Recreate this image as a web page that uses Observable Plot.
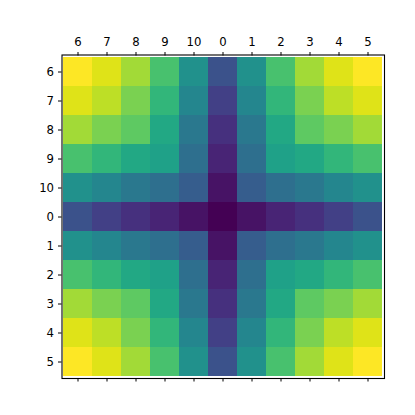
<!DOCTYPE html>
<html>
<head>
<meta charset="utf-8">
<script src="https://cdn.jsdelivr.net/npm/d3@7"></script>
<script src="https://cdn.jsdelivr.net/npm/@observablehq/plot@0.6"></script>
<style>
  html, body { margin: 0; padding: 0; background: white; }
</style>
</head>
<body>
<div id="chart"></div>
<script>
const labels = ["6", "7", "8", "9", "10", "0", "1", "2", "3", "4", "5"];

// Values (0 = darkest, 1 = brightest), row by row
const row6  = [1.00, 0.95, 0.86, 0.71, 0.50, 0.25, 0.50, 0.71, 0.86, 0.95, 1.00];
const row7  = [0.95, 0.90, 0.80, 0.66, 0.46, 0.19, 0.46, 0.66, 0.80, 0.90, 0.95];
const row8  = [0.86, 0.80, 0.75, 0.60, 0.40, 0.14, 0.40, 0.60, 0.75, 0.80, 0.86];
const row9  = [0.71, 0.66, 0.60, 0.57, 0.36, 0.10, 0.36, 0.57, 0.60, 0.66, 0.71];
const row10 = [0.50, 0.46, 0.40, 0.36, 0.29, 0.05, 0.29, 0.36, 0.40, 0.46, 0.50];
const row0  = [0.25, 0.19, 0.14, 0.10, 0.05, 0.00, 0.05, 0.10, 0.14, 0.19, 0.25];
const row1  = [0.50, 0.46, 0.40, 0.36, 0.29, 0.05, 0.29, 0.36, 0.40, 0.46, 0.50];
const row2  = [0.71, 0.66, 0.60, 0.57, 0.36, 0.10, 0.36, 0.57, 0.60, 0.66, 0.71];
const row3  = [0.86, 0.80, 0.75, 0.60, 0.40, 0.14, 0.40, 0.60, 0.75, 0.80, 0.86];
const row4  = [0.95, 0.90, 0.80, 0.66, 0.46, 0.19, 0.46, 0.66, 0.80, 0.90, 0.95];
const row5  = [1.00, 0.95, 0.86, 0.71, 0.50, 0.25, 0.50, 0.71, 0.86, 0.95, 1.00];

const rows = [row6, row7, row8, row9, row10, row0, row1, row2, row3, row4, row5];

const data = [];
rows.forEach((r, i) => r.forEach((v, j) => data.push({row: labels[i], col: labels[j], v})));

const chart = Plot.plot({
  width: 415,
  height: 415,
  marginLeft: 61.5,
  marginRight: 31,
  marginTop: 54.5,
  marginBottom: 37,
  style: {fontFamily: "DejaVu Sans, sans-serif", fontSize: "11.7px", color: "black", background: "white"},
  x: {domain: labels, padding: 0},
  y: {domain: labels, padding: 0},
  color: {type: "linear", scheme: "viridis", domain: [0, 1]},
  marks: [
    Plot.cell(data, {x: "col", y: "row", fill: "v"}),
    Plot.axisX({anchor: "top", label: null, tickSize: 3.5, tickPadding: 6}),
    Plot.axisX({anchor: "bottom", label: null, tickSize: 3.5, tickFormat: () => ""}),
    Plot.axisY({anchor: "left", label: null, tickSize: 3.5, tickPadding: 4.5}),
    Plot.frame({stroke: "black", strokeWidth: 1.1})
  ]
});
document.getElementById("chart").appendChild(chart);
</script>
</body>
</html>
